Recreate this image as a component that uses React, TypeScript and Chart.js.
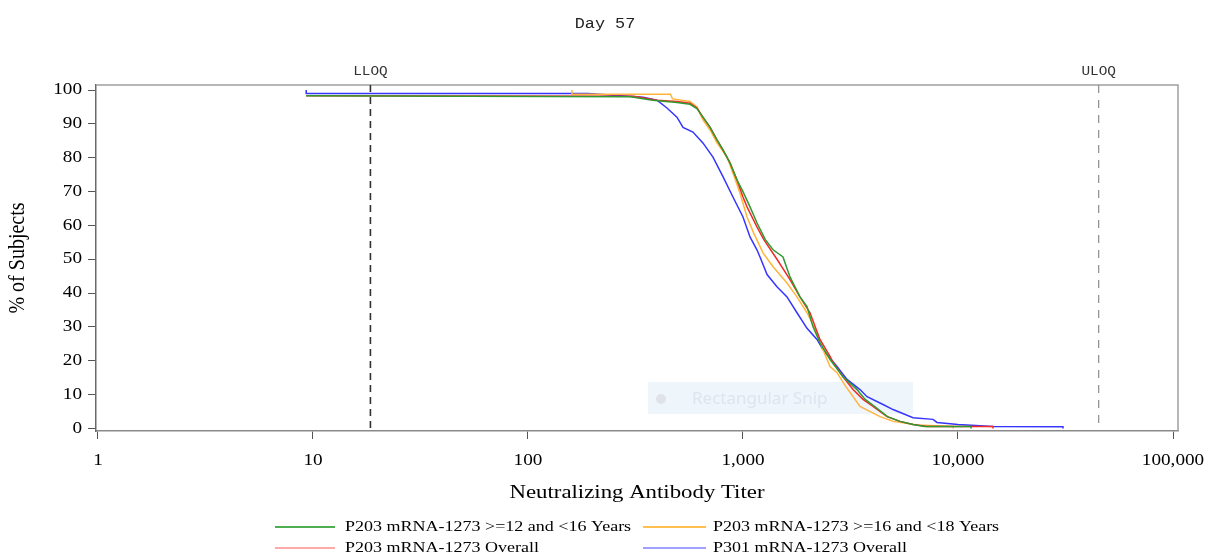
import React, { useEffect, useRef } from "react";
import { Chart, registerables } from "chart.js";

Chart.register(...registerables);

// ---------- text ----------
const TITLE = "Day 57";
const X_TITLE = "Neutralizing Antibody Titer";
const Y_TITLE = "% of Subjects";
const LLOQ_LABEL = "LLOQ";
const ULOQ_LABEL = "ULOQ";
const SNIP_TEXT = "Rectangular Snip";

// ---------- axes ----------
const X_TICKS = [1, 10, 100, 1000, 10000, 100000];
const X_TICK_LABELS = ["1", "10", "100", "1,000", "10,000", "100,000"];
const Y_TICKS = [0, 10, 20, 30, 40, 50, 60, 70, 80, 90, 100];
const Y_TICK_LABELS = ["0", "10", "20", "30", "40", "50", "60", "70", "80", "90", "100"];
const LLOQ = 18.5;
const ULOQ = 45118;

// ---------- series ----------
const SERIES_NAMES = [
  "P203 mRNA-1273 >=12 and <16 Years",
  "P203 mRNA-1273 >=16 and <18 Years",
  "P203 mRNA-1273 Overall",
  "P301 mRNA-1273 Overall",
];

// P203 >=12 and <16 Years (green)
const GREEN_X = [9.3, 300, 380, 493, 567, 611, 651, 703, 757, 807, 870, 937, 1000, 1078, 1161, 1270, 1380, 1535, 1654, 1841, 1985, 2117, 2280, 2540, 2918, 3390, 3700, 4100, 4700, 5374, 6180, 7000, 11500, 11500];
const GREEN_Y = [98.3, 98.0, 97.0, 96.3, 95.8, 94.5, 92.0, 89.0, 85.3, 82.3, 78.5, 73.5, 70.0, 65.5, 60.8, 55.8, 52.8, 50.7, 44.8, 38.9, 36.0, 30.1, 25.4, 20.4, 15.3, 11.5, 8.6, 6.5, 3.5, 2.1, 1.2, 0.6, 0.6, 0];

// P203 >=16 and <18 Years (orange)
const ORANGE_X = [160, 160, 460, 470, 567, 611, 651, 703, 757, 843, 898, 968, 1044, 1120, 1239, 1380, 1602, 1783, 1985, 2209, 2355, 2540, 2737, 3000, 3501, 4340, 5000, 6500, 9500, 9500];
const ORANGE_Y = [100, 98.8, 98.8, 97.4, 96.6, 95.0, 91.2, 88.2, 84.4, 80.2, 75.5, 69.6, 62.5, 57.8, 51.9, 47.8, 43.0, 38.9, 34.2, 28.3, 23.3, 18.3, 16.5, 12.5, 6.5, 3.5, 2.1, 1.0, 0.6, 0];

// P203 Overall (red)
const RED_X = [9.3, 310, 398, 493, 567, 611, 651, 703, 757, 807, 870, 937, 1000, 1044, 1161, 1250, 1439, 1654, 1841, 2050, 2280, 2540, 2623, 2918, 3250, 3615, 4025, 4677, 5374, 6180, 7175, 14550, 14550];
const RED_Y = [98.3, 98.2, 97.0, 96.6, 96.1, 94.7, 92.0, 89.0, 85.3, 82.3, 78.5, 73.5, 68.4, 65.5, 59.6, 55.8, 50.0, 44.0, 38.9, 34.2, 26.3, 21.3, 19.5, 15.3, 11.5, 8.6, 6.5, 3.5, 2.1, 1.2, 0.6, 0.6, 0];

// P301 Overall (blue)
const BLUE_X = [9.3, 9.3, 190, 343, 398, 443, 493, 526, 585, 651, 725, 807, 898, 1000, 1078, 1161, 1200, 1294, 1439, 1602, 1783, 1985, 2209, 2355, 2737, 3046, 3501, 3775, 4480, 4987, 6180, 7656, 7985, 10000, 14550, 30780, 30780];
const BLUE_Y = [100, 99.0, 99.0, 97.9, 97.0, 94.7, 92.0, 89.0, 87.6, 84.4, 80.2, 74.4, 68.4, 62.5, 56.6, 52.8, 50.7, 45.5, 41.9, 38.9, 34.2, 29.6, 26.3, 23.3, 18.3, 14.5, 11.5, 9.4, 7.1, 5.6, 3.2, 2.7, 1.8, 1.2, 0.6, 0.5, 0];

const LINE_COLORS = ["#2f9a2f", "#ffb43c", "#f22a2a", "#3535ff"];
const LEGEND_COLORS = ["#4fae4f", "#ffc050", "#ffaaaa", "#a0a0ff"];

const toPoints = (xs: number[], ys: number[]) => xs.map((x, i) => ({ x, y: ys[i] }));

const SX = 1.2; // horizontal stretch of the reference's text

function drawText(
  ctx: CanvasRenderingContext2D,
  text: string,
  x: number,
  y: number,
  font: string,
  color: string,
  align: CanvasTextAlign,
  sx = SX
) {
  ctx.save();
  ctx.font = font;
  ctx.fillStyle = color;
  ctx.textBaseline = "middle";
  ctx.textAlign = align;
  ctx.translate(x, y);
  ctx.scale(sx, 1);
  ctx.fillText(text, 0, 0);
  ctx.restore();
}

const decorPlugin = {
  id: "decor",
  beforeDatasetsDraw(chart: any) {
    const ctx: CanvasRenderingContext2D = chart.ctx;
    // faint "Rectangular Snip" overlay seen in the reference
    ctx.save();
    ctx.fillStyle = "rgba(232,241,250,0.75)";
    ctx.fillRect(648, 382, 265, 32);
    ctx.fillStyle = "#dfe3e8";
    ctx.beginPath();
    ctx.arc(661, 399, 5, 0, Math.PI * 2);
    ctx.fill();
    ctx.restore();
    drawText(ctx, SNIP_TEXT, 692, 399, "17px 'Noto Sans'", "#dde5ee", "left", 1);
  },
  afterDraw(chart: any) {
    const ctx: CanvasRenderingContext2D = chart.ctx;
    const area = chart.chartArea;
    const xs = chart.scales.x;
    const ys = chart.scales.y;

    // top and right frame
    ctx.save();
    ctx.strokeStyle = "#a0a0a0";
    ctx.lineWidth = 1.5;
    ctx.beginPath();
    ctx.moveTo(area.left, area.top);
    ctx.lineTo(area.right, area.top);
    ctx.lineTo(area.right, area.bottom);
    ctx.stroke();
    ctx.restore();

    // LLOQ / ULOQ reference lines
    const lx = xs.getPixelForValue(LLOQ);
    const ux = xs.getPixelForValue(ULOQ);
    ctx.save();
    ctx.strokeStyle = "#333333";
    ctx.lineWidth = 1.6;
    ctx.setLineDash([7, 5]);
    ctx.beginPath();
    ctx.moveTo(lx, area.top);
    ctx.lineTo(lx, area.bottom);
    ctx.stroke();
    ctx.strokeStyle = "#8c8c8c";
    ctx.lineWidth = 1.2;
    ctx.setLineDash([8, 7]);
    ctx.beginPath();
    ctx.moveTo(ux, area.top);
    ctx.lineTo(ux, area.bottom);
    ctx.stroke();
    ctx.restore();

    drawText(ctx, LLOQ_LABEL, lx, 72, "12px 'Liberation Mono'", "#333", "center");
    drawText(ctx, ULOQ_LABEL, ux, 72, "12px 'Liberation Mono'", "#333", "center");

    // title
    drawText(ctx, TITLE, 605, 24, "14px 'Liberation Mono'", "#222", "center");

    // tick labels
    X_TICKS.forEach((v, i) => {
      drawText(ctx, X_TICK_LABELS[i], xs.getPixelForValue(v), 461, "16px 'Liberation Serif'", "#000", "center");
    });
    Y_TICKS.forEach((v, i) => {
      drawText(ctx, Y_TICK_LABELS[i], 82, ys.getPixelForValue(v), "16px 'Liberation Serif'", "#000", "right");
    });

    // axis titles
    drawText(ctx, X_TITLE, (area.left + area.right) / 2, 493, "19px 'Liberation Serif'", "#000", "center");
    ctx.save();
    ctx.font = "20px 'Liberation Serif'";
    ctx.fillStyle = "#000";
    ctx.textAlign = "center";
    ctx.textBaseline = "middle";
    ctx.translate(18, (area.top + area.bottom) / 2);
    ctx.scale(SX, 1);
    ctx.rotate(-Math.PI / 2);
    ctx.fillText(Y_TITLE, 0, 0);
    ctx.restore();

    // legend
    const cols = [[275, 335, 345], [643, 706, 713]];
    const rows = [527, 548];
    SERIES_NAMES.forEach((name, i) => {
      const c = cols[i % 2];
      const r = rows[Math.floor(i / 2)];
      ctx.save();
      ctx.strokeStyle = LEGEND_COLORS[i];
      ctx.lineWidth = 2;
      ctx.beginPath();
      ctx.moveTo(c[0], r);
      ctx.lineTo(c[1], r);
      ctx.stroke();
      ctx.restore();
      drawText(ctx, name, c[2], r, "15px 'Liberation Serif'", "#000", "left");
    });
  },
};

export default function App() {
  const ref = useRef<HTMLCanvasElement>(null);

  useEffect(() => {
    const canvas = ref.current;
    if (!canvas) return;
    const seriesData = [
      toPoints(GREEN_X, GREEN_Y),
      toPoints(ORANGE_X, ORANGE_Y),
      toPoints(RED_X, RED_Y),
      toPoints(BLUE_X, BLUE_Y),
    ];
    const orders = [0, 2, 1, 3];
    const chart = new Chart(canvas, {
      type: "line",
      data: {
        datasets: SERIES_NAMES.map((name, i) => ({
          label: name,
          data: seriesData[i],
          borderColor: LINE_COLORS[i],
          backgroundColor: LINE_COLORS[i],
          borderWidth: 1.5,
          pointRadius: 0,
          tension: 0,
          fill: false,
          order: orders[i],
        })),
      },
      options: {
        responsive: false,
        animation: false,
        devicePixelRatio: 1,
        layout: { padding: { top: 85, right: 28, bottom: 0, left: 0 } },
        plugins: {
          legend: { display: false },
          title: { display: false },
          tooltip: { enabled: false },
        },
        scales: {
          x: {
            type: "logarithmic",
            min: 0.979,
            max: 105500,
            afterBuildTicks: (s: any) => {
              s.ticks = X_TICKS.map((v) => ({ value: v }));
            },
            afterFit: (s: any) => {
              s.height = 126;
            },
            ticks: { display: false },
            grid: { display: true, drawOnChartArea: false, drawTicks: true, tickLength: 8, color: "#555" },
            border: { display: true, color: "#8a8a8a", width: 1.5 },
          },
          y: {
            type: "linear",
            min: -0.74,
            max: 101.5,
            afterBuildTicks: (s: any) => {
              s.ticks = Y_TICKS.map((v) => ({ value: v }));
            },
            afterFit: (s: any) => {
              s.width = 96;
            },
            ticks: { display: false },
            grid: { display: true, drawOnChartArea: false, drawTicks: true, tickLength: 8, color: "#555" },
            border: { display: true, color: "#6a6a6a", width: 1.5 },
          },
        },
      },
      plugins: [decorPlugin],
    } as any);
    return () => chart.destroy();
  }, []);

  return (
    <div style={{ position: "absolute", left: 0, top: 0, width: 1206, height: 557, background: "#fff" }}>
      <canvas ref={ref} width={1206} height={557} style={{ display: "block", width: 1206, height: 557 }} />
    </div>
  );
}
